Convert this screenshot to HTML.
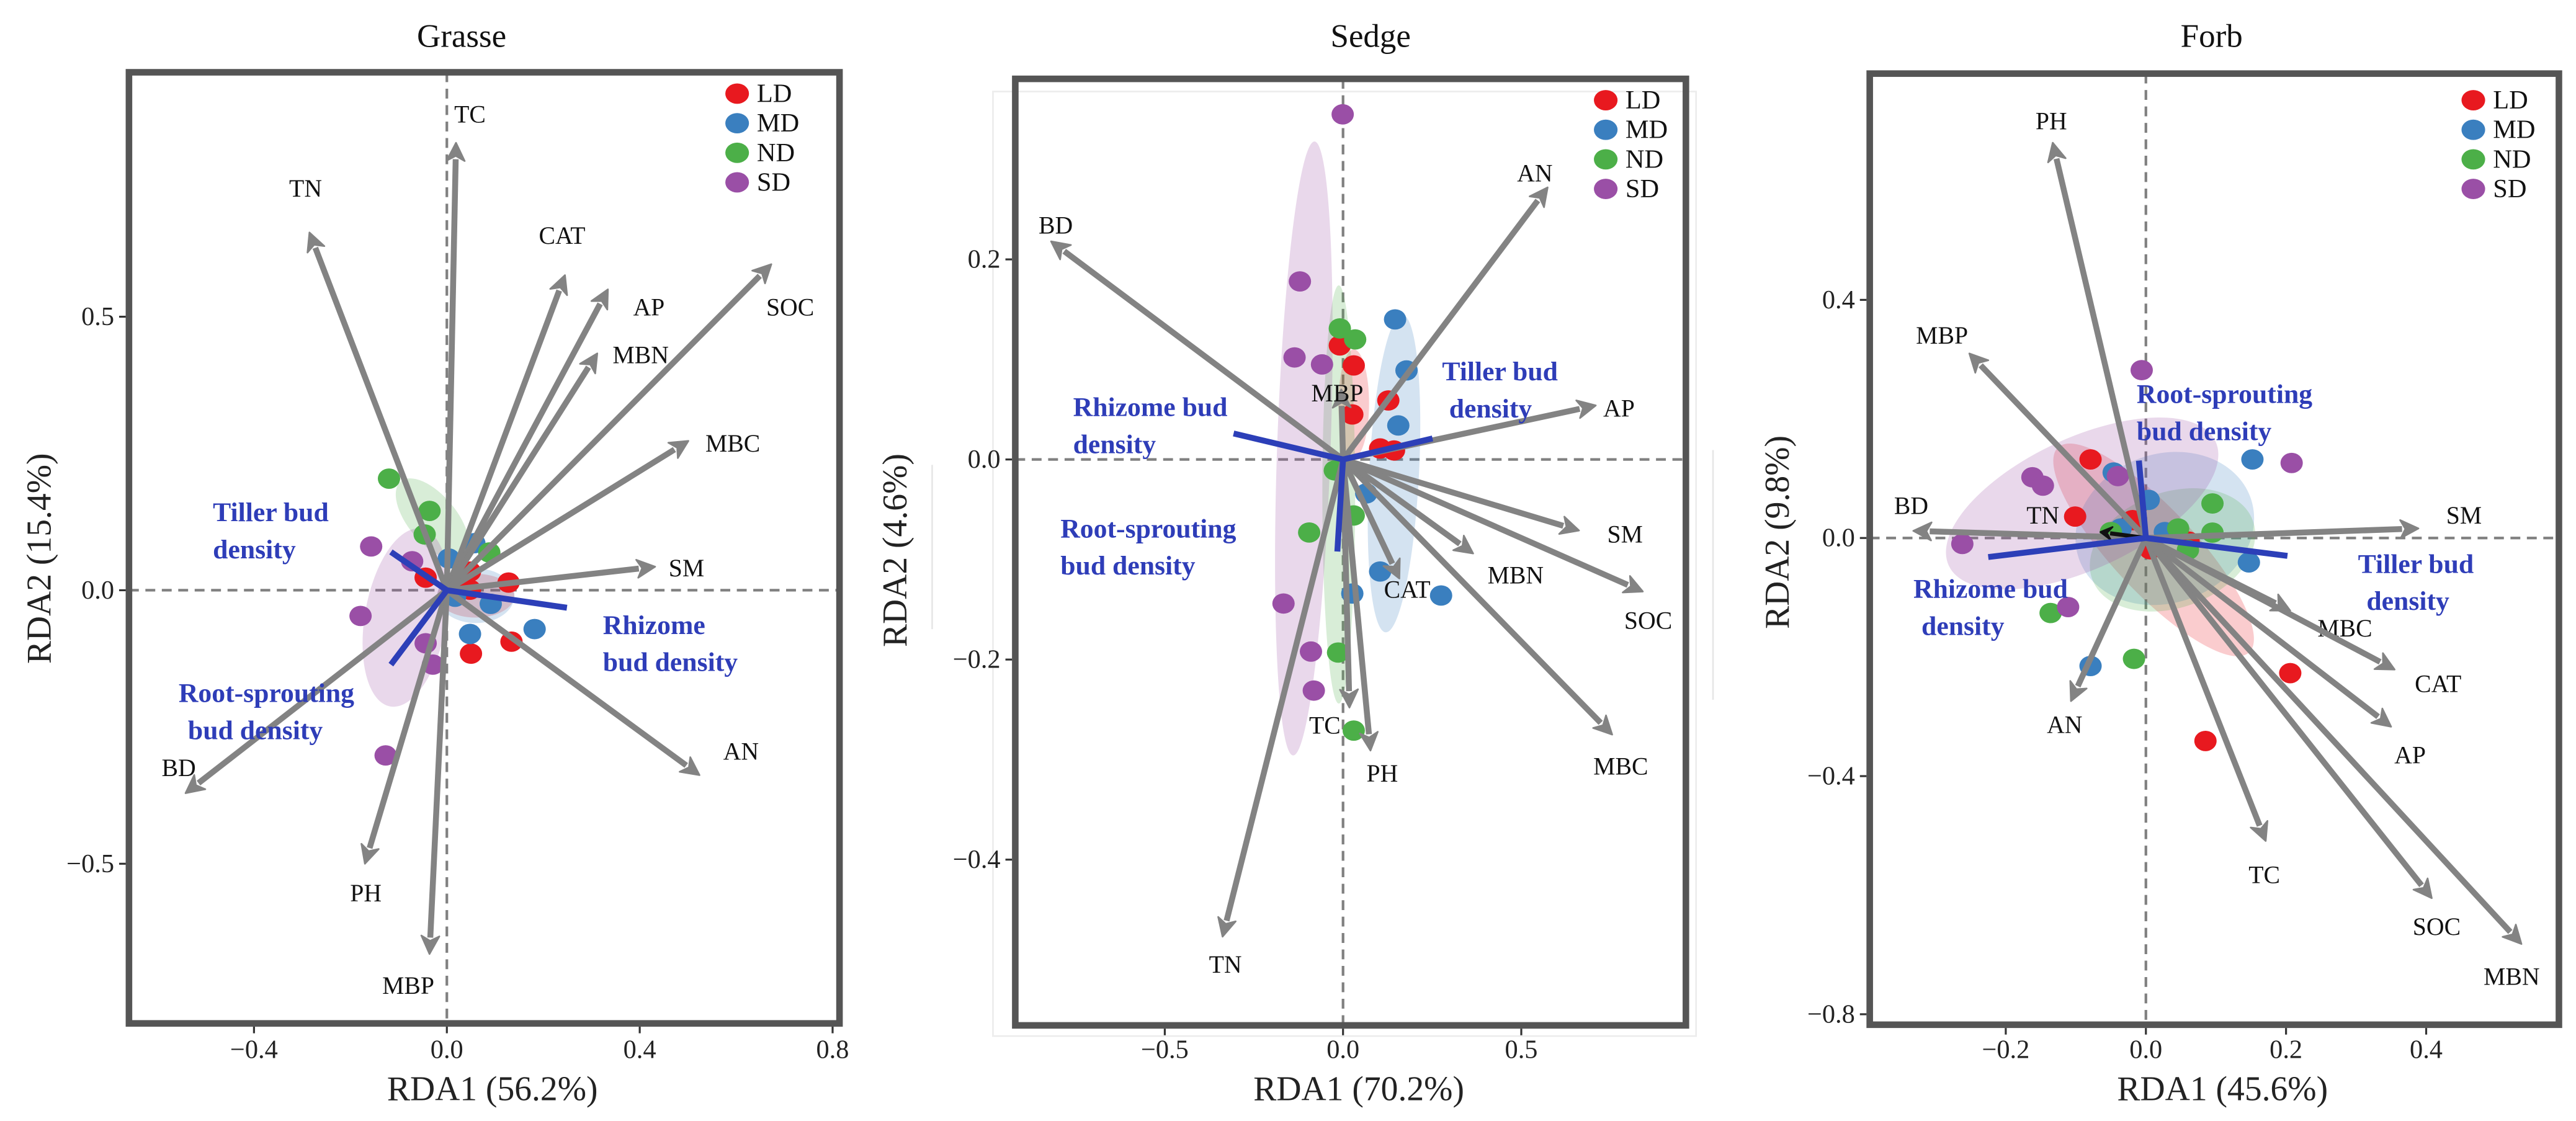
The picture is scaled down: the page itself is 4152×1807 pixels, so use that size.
<!DOCTYPE html>
<html><head><meta charset="utf-8"><style>
html,body{margin:0;padding:0;background:#fff;}
svg{display:block;font-family:"Liberation Serif",serif;}
svg text{font-family:"Liberation Serif",serif;}
</style></head><body>
<svg id="chart" width="4152" height="1807" viewBox="0 0 1568 682.4" font-family="Liberation Serif, serif" xmlns="http://www.w3.org/2000/svg"></svg>
<script>
// ---------- DATA ----------
const varNames = {
  grasse: ["TC","TN","CAT","AP","MBN","SOC","MBC","SM","AN","BD","PH","MBP"],
  sedge:  ["BD","AN","AP","SM","SOC","MBC","MBN","CAT","TC","PH","TN","MBP"],
  forb:   ["PH","MBP","BD","TN","SM","MBC","CAT","AP","TC","SOC","MBN","AN"]
};
const grasseVarX = [0.019,-0.285,0.245,0.334,0.312,0.673,0.501,0.432,0.524,-0.542,-0.17,-0.036];
const grasseVarY = [0.818,0.654,0.576,0.55,0.433,0.596,0.273,0.043,-0.338,-0.371,-0.5,-0.665];
const grasseLabX = [0.048,-0.293,0.239,0.419,0.402,0.712,0.593,0.497,0.61,-0.556,-0.168,-0.08];
const grasseLabY = [0.87,0.734,0.648,0.517,0.43,0.517,0.268,0.04,-0.295,-0.325,-0.554,-0.723];
const sedgeVarX = [-0.819,0.574,0.709,0.662,0.841,0.755,0.365,0.158,0.018,0.077,-0.338,-0.005];
const sedgeVarY = [0.218,0.272,0.054,-0.071,-0.132,-0.275,-0.094,-0.119,-0.248,-0.291,-0.477,0.07];
const sedgeLabX = [-0.806,0.538,0.774,0.791,0.856,0.779,0.484,0.18,-0.051,0.11,-0.33,-0.016];
const sedgeLabY = [0.234,0.286,0.051,-0.075,-0.161,-0.307,-0.116,-0.13,-0.266,-0.314,-0.505,0.066];
const forbVarX = [-0.133,-0.252,-0.332,-0.065,0.389,0.206,0.355,0.35,0.171,0.408,0.536,-0.107];
const forbVarY = [0.664,0.31,0.012,0.01,0.016,-0.122,-0.221,-0.317,-0.509,-0.605,-0.682,-0.274];
const forbLabX = [-0.135,-0.291,-0.335,-0.147,0.454,0.284,0.417,0.377,0.169,0.415,0.522,-0.116];
const forbLabY = [0.7,0.34,0.054,0.038,0.038,-0.152,-0.245,-0.365,-0.566,-0.653,-0.737,-0.314];

const groups = ["LD","MD","ND","SD"];
const grasseLDx=[-0.044,0.128,0.134,0.05,0.048,0.048], grasseLDy=[0.023,0.014,-0.094,-0.116,0.001,0.034];
const grasseMDx=[0.004,0.057,0.091,0.048,0.182,0.017], grasseMDy=[0.058,0.086,-0.025,-0.08,-0.071,-0.012];
const grasseNDx=[-0.12,-0.036,-0.046,0.088], grasseNDy=[0.204,0.145,0.102,0.069];
const grasseSDx=[-0.157,-0.072,-0.179,-0.127,-0.044,-0.029], grasseSDy=[0.08,0.053,-0.047,-0.302,-0.097,-0.136];
const sedgeLDx=[-0.009,0.03,0.026,0.127,0.104,0.143], sedgeLDy=[0.114,0.094,0.045,0.059,0.011,0.009];
const sedgeMDx=[0.146,0.178,0.155,0.065,0.104,0.275,0.026], sedgeMDy=[0.14,0.089,0.034,-0.034,-0.112,-0.136,-0.134];
const sedgeNDx=[-0.009,0.034,-0.023,-0.095,0.03,-0.014,0.03], sedgeNDy=[0.131,0.12,-0.011,-0.073,-0.056,-0.193,-0.271];
const sedgeSDx=[-0.001,-0.121,-0.136,-0.059,-0.167,-0.09,-0.082], sedgeSDy=[0.345,0.178,0.102,0.095,-0.144,-0.192,-0.231];
const forbLDx=[-0.079,-0.101,-0.019,0.061,0.206,0.085,0.006], forbLDy=[0.132,0.036,0.03,-0.006,-0.227,-0.341,-0.019];
const forbMDx=[-0.046,0.004,-0.036,0.027,0.152,0.147,-0.079], forbMDy=[0.11,0.064,0.016,0.01,0.132,-0.041,-0.215];
const forbNDx=[0.095,0.095,0.046,0.06,-0.136,-0.017,-0.05], forbNDy=[0.058,0.009,0.016,-0.02,-0.126,-0.203,0.01];
const forbSDx=[-0.006,-0.162,-0.147,-0.04,0.208,-0.262,-0.111], forbSDy=[0.282,0.102,0.088,0.104,0.126,-0.01,-0.116];

const grasseEllCx=[0.06,0.06,-0.03,-0.085], grasseEllCy=[-0.01,-0.01,0.13,-0.05];
const grasseEllRx=[0.08,0.08,0.05,0.085], grasseEllRy=[0.04,0.05,0.09,0.165];
const grasseEllAng=[0,0,-40,10];
const sedgeEllCx=[0.03,0.143,-0.012,-0.11], sedgeEllCy=[0.056,-0.014,-0.035,0.011];
const sedgeEllRx=[0.043,0.07,0.046,0.075], sedgeEllRy=[0.054,0.159,0.209,0.307];
const sedgeEllAng=[0,3,0,2];
const forbEllCx=[0.011,0.027,0.038,-0.091], forbEllCy=[-0.02,0.016,-0.02,0.058];
const forbEllRx=[0.2,0.13,0.122,0.21], forbEllRy=[0.07,0.125,0.097,0.11];
const forbEllAng=[47,-20,-20,-25];

const budNames=["Tiller bud density","Rhizome bud density","Root-sprouting bud density"];
const grasseBudX=[-0.116,0.249,-0.116], grasseBudY=[0.07,-0.032,-0.136];
const sedgeBudX=[0.251,-0.307,-0.016], sedgeBudY=[0.021,0.026,-0.092];
const forbBudX=[0.202,-0.225,-0.01], forbBudY=[-0.03,-0.032,0.13];

const grasseXTicks=[-0.4,0,0.4,0.8], grasseXTickLabels=["−0.4","0.0","0.4","0.8"];
const grasseYTicks=[0.5,0,-0.5], grasseYTickLabels=["0.5","0.0","−0.5"];
const sedgeXTicks=[-0.5,0,0.5], sedgeXTickLabels=["−0.5","0.0","0.5"];
const sedgeYTicks=[0.2,0,-0.2,-0.4], sedgeYTickLabels=["0.2","0.0","−0.2","−0.4"];
const forbXTicks=[-0.2,0,0.2,0.4], forbXTickLabels=["−0.2","0.0","0.2","0.4"];
const forbYTicks=[0.4,0,-0.4,-0.8], forbYTickLabels=["0.4","0.0","−0.4","−0.8"];

// ---------- LAYOUT ----------
const colors={LD:"#e8191f",MD:"#3a7fbf",ND:"#4caf48",SD:"#9a4fa6"};
const panels=[
 {key:"grasse",title:"Grasse",xlab:"RDA1 (56.2%)",ylab:"RDA2 (15.4%)",x0:272,y0:359.3,sx:293.5,sy:333,
  frame:[78.5,44,511,623],titleX:281,ylabX:24,ylabY:340,legX:448.7,legY:57,
  varX:grasseVarX,varY:grasseVarY,labX:grasseLabX,labY:grasseLabY,
  pts:{LD:[grasseLDx,grasseLDy],MD:[grasseMDx,grasseMDy],ND:[grasseNDx,grasseNDy],SD:[grasseSDx,grasseSDy]},
  ell:[grasseEllCx,grasseEllCy,grasseEllRx,grasseEllRy,grasseEllAng],bud:[grasseBudX,grasseBudY],
  budLab:[[129.6,312,"Tiller bud","density",129.6],[367,380.6,"Rhizome","bud density",367],[108.7,422,"Root-sprouting","bud density",114.4]],
  xt:[grasseXTicks,grasseXTickLabels],yt:[grasseYTicks,grasseYTickLabels],blackTN:false},
 {key:"sedge",title:"Sedge",xlab:"RDA1 (70.2%)",ylab:"RDA2 (4.6%)",x0:817.5,y0:279.7,sx:217,sy:609,
  frame:[618,48,1026.2,624.2],titleX:834.3,ylabX:545,ylabY:335,legX:977.4,legY:61,
  varX:sedgeVarX,varY:sedgeVarY,labX:sedgeLabX,labY:sedgeLabY,
  pts:{LD:[sedgeLDx,sedgeLDy],MD:[sedgeMDx,sedgeMDy],ND:[sedgeNDx,sedgeNDy],SD:[sedgeSDx,sedgeSDy]},
  ell:[sedgeEllCx,sedgeEllCy,sedgeEllRx,sedgeEllRy,sedgeEllAng],bud:[sedgeBudX,sedgeBudY],
  budLab:[[877.8,226.2,"Tiller bud","density",882.1],[653.2,248,"Rhizome bud","density",653.2],[645.5,321.9,"Root-sprouting","bud density",645.5]],
  xt:[sedgeXTicks,sedgeXTickLabels],yt:[sedgeYTicks,sedgeYTickLabels],blackTN:false},
 {key:"forb",title:"Forb",xlab:"RDA1 (45.6%)",ylab:"RDA2 (9.8%)",x0:1306.2,y0:327.5,sx:426.5,sy:362.4,
  frame:[1138.1,44.8,1557.6,623.8],titleX:1346.2,ylabX:1082,ylabY:324,legX:1505.5,legY:61,
  varX:forbVarX,varY:forbVarY,labX:forbLabX,labY:forbLabY,
  pts:{LD:[forbLDx,forbLDy],MD:[forbMDx,forbMDy],ND:[forbNDx,forbNDy],SD:[forbSDx,forbSDy]},
  ell:[forbEllCx,forbEllCy,forbEllRx,forbEllRy,forbEllAng],bud:[forbBudX,forbBudY],
  budLab:[[1435.3,343.4,"Tiller bud","density",1440.5],[1164.7,358.6,"Rhizome bud","density",1169.6],[1300.6,240,"Root-sprouting","bud density",1300.6]],
  xt:[forbXTicks,forbXTickLabels],yt:[forbYTicks,forbYTickLabels],blackTN:true}
];

const NS="http://www.w3.org/2000/svg";
const FONT="Liberation Serif, serif";
const svg=document.getElementById("chart");
function mk(tag,attrs,parent){const e=document.createElementNS(NS,tag);for(const k in attrs)e.setAttribute(k,attrs[k]);if(tag==="text")e.setAttribute("font-family",FONT);(parent||svg).appendChild(e);return e;}

const faint=mk("g",{});


mk("rect",{x:604.4,y:55.7,width:428,height:575,fill:"none",stroke:"#ececec","stroke-width":1},faint);
mk("line",{x1:1042.7,y1:274,x2:1042.7,y2:426,stroke:"#e6e6e6","stroke-width":1},faint);
mk("line",{x1:567.4,y1:283,x2:567.4,y2:383,stroke:"#e6e6e6","stroke-width":1},faint);

panels.forEach(p=>{
  const X=v=>p.x0+v*p.sx, Y=v=>p.y0-v*p.sy;
  const g=mk("g",{});
  
  
  const [fx1,fy1,fx2,fy2]=p.frame;
  const cid="clip-"+p.key;
  const cp=mk("clipPath",{id:cid},g); mk("rect",{x:fx1,y:fy1,width:fx2-fx1,height:fy2-fy1},cp);

  const t=mk("text",{x:p.titleX,y:22,"text-anchor":"middle","dominant-baseline":"central","font-size":20,fill:"#111"},g);
  t.textContent=p.title;
  
  

  const plot=mk("g",{"clip-path":"url(#"+cid+")"},g);
  const zx=mk("line",{x1:X(0),y1:fy1,x2:X(0),y2:fy2,stroke:"#808080","stroke-width":1.6,"stroke-dasharray":"6,4"},plot);
  
  
  const zy=mk("line",{x1:fx1,y1:Y(0),x2:fx2,y2:Y(0),stroke:"#808080","stroke-width":1.6,"stroke-dasharray":"6,4"},plot);
  
  

  groups.forEach((gr,i)=>{
    const cx=X(p.ell[0][i]), cy=Y(p.ell[1][i]);
    const el=mk("ellipse",{cx:cx,cy:cy,rx:p.ell[2][i]*p.sx,ry:p.ell[3][i]*p.sy,fill:colors[gr],"fill-opacity":0.22,
      transform:"rotate("+p.ell[4][i]+" "+cx+" "+cy+")"},plot);
    
    
  });
  groups.forEach(gr=>{
    const [xs,ys]=p.pts[gr];
    xs.forEach((v,i)=>{
      const c=mk("ellipse",{cx:X(v),cy:Y(ys[i]),rx:6.8,ry:6.2,fill:colors[gr]},plot);
      
      
    });
  });
  varNames[p.key].forEach((nm,i)=>{
    const x1=X(0),y1=Y(0),x2=X(p.varX[i]),y2=Y(p.varY[i]);
    const dx=x2-x1,dy=y2-y1,L=Math.hypot(dx,dy),ux=dx/L,uy=dy/L;
    const black=p.blackTN&&nm==="TN";
    const col=black?"#111":"#838383";
    const hl=black?7:11, hw=black?4:5.5;
    const bx=x2-ux*hl,by=y2-uy*hl;
    const a=mk("g",{},plot);
    
    
    mk("line",{x1:x1,y1:y1,x2:bx+ux*1,y2:by+uy*1,stroke:col,"stroke-width":black?2.5:3.6},a);
    mk("polygon",{points:[x2,y2,bx-uy*hw,by+ux*hw,bx+ux*3,by+uy*3,bx+uy*hw,by-ux*hw].join(" "),fill:col,stroke:col,"stroke-width":1,"stroke-linejoin":"round"},a);
    const lt=mk("text",{x:X(p.labX[i]),y:Y(p.labY[i]),"text-anchor":"middle","dominant-baseline":"central","font-size":15,fill:"#111"},plot);
    lt.textContent=nm;
    
    
  });
  p.bud[0].forEach((v,i)=>{
    const l=mk("line",{x1:X(0),y1:Y(0),x2:X(v),y2:Y(p.bud[1][i]),stroke:"#2c3fb8","stroke-width":3.6},plot);
    
    
  });
  p.budLab.forEach((b,i)=>{
    const tx=mk("text",{"font-size":16.5,"font-weight":"bold",fill:"#2e3db8","dominant-baseline":"central"},g);
    const s1=mk("tspan",{x:b[0],y:b[1]},tx); s1.textContent=b[2];
    const s2=mk("tspan",{x:b[4],y:b[1]+22.6},tx); s2.textContent=b[3];
    
    
  });
  groups.forEach((gr,i)=>{
    const ly=p.legY+i*18;
    const lg=mk("g",{},g);
    
    
    mk("ellipse",{cx:p.legX,cy:ly,rx:7.2,ry:6.2,fill:colors[gr]},lg);
    const lt=mk("text",{x:p.legX+12,y:ly,"dominant-baseline":"central","font-size":16,fill:"#111"},lg);
    lt.textContent=gr;
  });
  const fr=mk("rect",{x:fx1,y:fy1,width:fx2-fx1,height:fy2-fy1,fill:"none",stroke:"#555","stroke-width":4},g);
  
  
  p.xt[0].forEach((v,i)=>{
    mk("line",{x1:X(v),y1:fy2+2,x2:X(v),y2:fy2+6,stroke:"#333","stroke-width":1.2},g);
    const tl=mk("text",{x:X(v),y:639,"text-anchor":"middle","dominant-baseline":"central","font-size":16,fill:"#222"},g);
    tl.textContent=p.xt[1][i];
    
    
  });
  p.yt[0].forEach((v,i)=>{
    mk("line",{x1:fx1-6,y1:Y(v),x2:fx1-2,y2:Y(v),stroke:"#333","stroke-width":1.2},g);
    const tl=mk("text",{x:fx1-9,y:Y(v),"text-anchor":"end","dominant-baseline":"central","font-size":16,fill:"#222"},g);
    tl.textContent=p.yt[1][i];
    
    
  });
  const xl=mk("text",{x:(fx1+fx2)/2+5,y:663,"text-anchor":"middle","dominant-baseline":"central","font-size":21,fill:"#222"},g);
  xl.textContent=p.xlab;
  
  
  const yl=mk("text",{x:p.ylabX,y:p.ylabY,"text-anchor":"middle","dominant-baseline":"central","font-size":21,fill:"#222",
    transform:"rotate(-90 "+p.ylabX+" "+p.ylabY+")"},g);
  yl.textContent=p.ylab;
  
  
});
</script>
</body></html>
